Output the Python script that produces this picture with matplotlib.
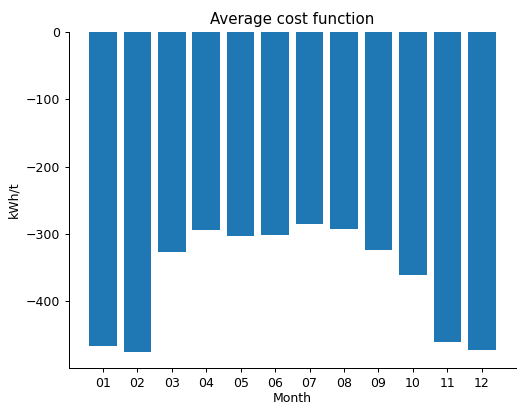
import matplotlib
matplotlib.use('agg')
import matplotlib.pyplot as plt

months = ['01', '02', '03', '04', '05', '06', '07', '08', '09', '10', '11', '12']
cost = [-467.0, -475.5, -327.5, -294.5, -303.5, -301.0, -285.0, -293.0, -324.0, -361.5, -460.5, -472.5]

fig, ax = plt.subplots(figsize=(517 / 90, 405 / 90), dpi=90)
fig.subplots_adjust(left=0.133, right=0.998, top=0.921, bottom=0.091)
ax.bar(months, cost, color='#1f77b4')
ax.set_title('Average cost function')
ax.set_xlabel('Month', labelpad=2)
ax.set_ylabel('kWh/t')
ax.spines['top'].set_visible(False)
ax.spines['right'].set_visible(False)
fig.savefig('out.png', dpi=90)
